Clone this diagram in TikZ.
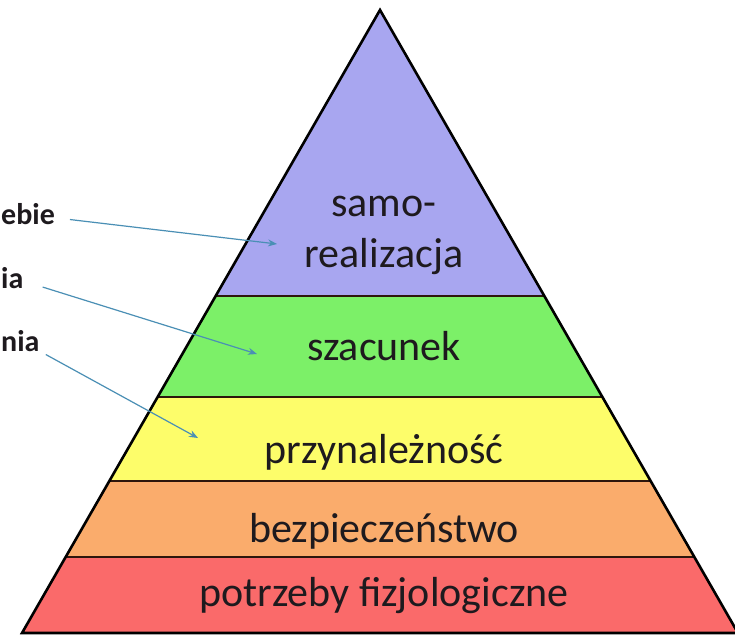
\documentclass[tikz,border=0pt]{standalone}
\usepackage{fontspec}
\setmainfont{Carlito}
\usetikzlibrary{calc,arrows.meta}
\definecolor{cPurple}{RGB}{168,166,240}
\definecolor{cGreen}{RGB}{124,240,104}
\definecolor{cYellow}{RGB}{253,253,106}
\definecolor{cOrange}{RGB}{250,172,108}
\definecolor{cRed}{RGB}{250,106,106}
\definecolor{cArrow}{RGB}{74,143,181}
\definecolor{cText}{RGB}{30,26,30}
\definecolor{cSep}{RGB}{45,22,12}
\begin{document}
\begin{tikzpicture}[x=1pt,y=-1pt,
  levellabel/.style={font=\fontsize{42}{51}\selectfont, text=cText, inner sep=0pt, anchor=base},
  sidelabel/.style={font=\fontsize{30}{34}\selectfont\bfseries, text=cText, inner sep=0pt, anchor=base west},
  pointer/.style={cArrow, line width=1.2pt, -{Stealth[length=9pt,width=7pt]}},
  separator/.style={cSep, line width=2.6pt},
  outline/.style={black, line width=2.6pt, line join=miter}]
\useasboundingbox (0,0) rectangle (735,636);
\clip (0,0) rectangle (735,636);
\fill[white] (0,0) rectangle (735,636);
% pyramid geometry
\coordinate (A) at (380,10);
\coordinate (BL) at (22,633);
\coordinate (BR) at (738,633);
\coordinate (L1) at ($(A)!0.4591!(BL)$);
\coordinate (R1) at ($(A)!0.4591!(BR)$);
\coordinate (L2) at ($(A)!0.6212!(BL)$);
\coordinate (R2) at ($(A)!0.6212!(BR)$);
\coordinate (L3) at ($(A)!0.7560!(BL)$);
\coordinate (R3) at ($(A)!0.7560!(BR)$);
\coordinate (L4) at ($(A)!0.8780!(BL)$);
\coordinate (R4) at ($(A)!0.8780!(BR)$);
% bands
\fill[cPurple] (A) -- (R1) -- (L1) -- cycle;
\fill[cGreen] (L1) -- (R1) -- (R2) -- (L2) -- cycle;
\fill[cYellow] (L2) -- (R2) -- (R3) -- (L3) -- cycle;
\fill[cOrange] (L3) -- (R3) -- (R4) -- (L4) -- cycle;
\fill[cRed] (L4) -- (R4) -- (BR) -- (BL) -- cycle;
\draw[separator] (L1) -- (R1);
\draw[separator] (L2) -- (R2);
\draw[separator] (L3) -- (R3);
\draw[separator] (L4) -- (R4);
\draw[outline] (A) -- (BR) -- (BL) -- cycle;
% level texts
\node[levellabel] (samo) at (384,216) {samo-};
\node[levellabel] (realiz) at (384,267) {realizacja};
\node[levellabel] (szac) at (384,360) {szacunek};
\node[levellabel] (przyn) at (384,463) {przynależność};
\node[levellabel] (bezp) at (384,542) {bezpieczeństwo};
\node[levellabel] (fizjo) at (384,606) {potrzeby fizjologiczne};
% side labels
\node[sidelabel] (lab1) at (1,225) {ebie};
\node[sidelabel] (lab2) at (1,288) {ia};
\node[sidelabel] (lab3) at (1,351) {nia};
\coordinate (tip1) at (277,244);
\coordinate (tip2) at (257,354);
\coordinate (tip3) at (198,438);
\draw[pointer, shorten <=15pt] (lab1) -- (tip1);
\draw[pointer, shorten <=20pt] (lab2) -- (tip2);
\draw[pointer, shorten <=7pt] (lab3) -- (tip3);
\end{tikzpicture}
\end{document}
